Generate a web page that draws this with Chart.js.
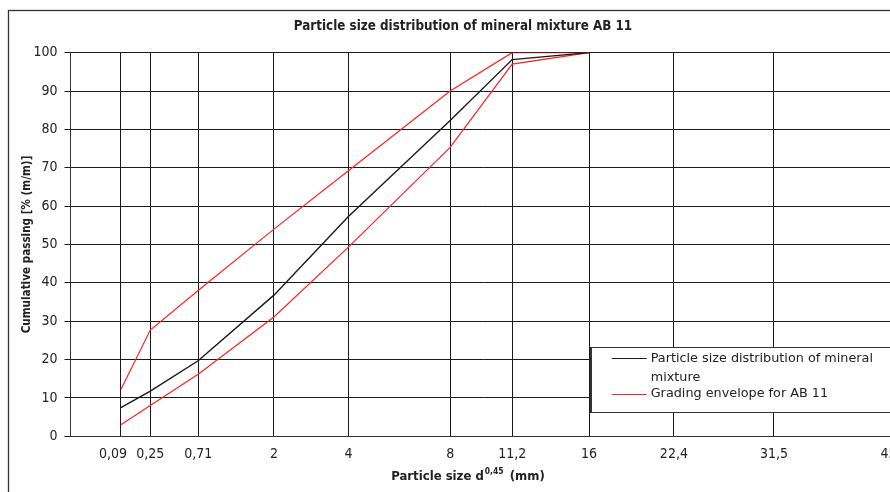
<!DOCTYPE html>
<html>
<head>
<meta charset="utf-8">
<script src="https://cdn.jsdelivr.net/npm/chart.js@4.4.1/dist/chart.umd.min.js"></script>
<style>
  html, body { margin: 0; padding: 0; background: #fff; overflow: hidden; }
  #wrap { position: relative; width: 910px; height: 492px; }
</style>
</head>
<body>
<div id="wrap"><canvas id="c"></canvas></div>
<script>
// ---- data ----
const sieveSizes = [0.09, 0.25, 0.71, 2, 4, 8, 11.2, 16];
const mixturePassing = [7.5, 11.8, 19.7, 36.8, 57.3, 82.3, 98.2, 100];
const envelopeLower = [3, 8, 16.2, 31.1, 49.3, 75.3, 97, 100];
const envelopeUpper = [12.2, 27.7, 38, 54, 69.2, 90, 100, 100];
const xTickValues = [0, 0.09, 0.25, 0.71, 2, 4, 8, 11.2, 16, 22.4, 31.5, 45];
const xTickLabels = ['', '0,09', '0,25', '0,71', '2', '4', '8', '11,2', '16', '22,4', '31,5', '45'];
const yTickStep = 10;

const chartTitle = 'Particle size distribution of mineral mixture AB 11';
const yTitle = 'Cumulative passing [% (m/m)]';
const xTitleMain = 'Particle size d';
const xTitleSup = '0,45';
const xTitleUnit = ' (mm)';
const seriesMixture = 'Particle size distribution of mineral mixture';
const seriesEnvelope = 'Grading envelope for AB 11';

const EXP = 0.45;
const FONT = '"DejaVu Sans Condensed", "DejaVu Sans", sans-serif';
const LEGEND_FONT = '"DejaVu Sans", sans-serif';

// ---- power (d^0.45) scale ----
class PowerScale extends Chart.LinearScale {
  getPixelForValue(value) {
    if (value === null || value === undefined || isNaN(value)) return NaN;
    const a = Math.pow(this.min, EXP), b = Math.pow(this.max, EXP);
    return this.getPixelForDecimal((Math.pow(value, EXP) - a) / (b - a));
  }
  getValueForPixel(pixel) {
    const a = Math.pow(this.min, EXP), b = Math.pow(this.max, EXP);
    const t = a + this.getDecimalForPixel(pixel) * (b - a);
    return Math.pow(Math.max(t, 0), 1 / EXP);
  }
}
PowerScale.id = 'power';
PowerScale.defaults = {};
Chart.register(PowerScale);

const pts = (arr) => sieveSizes.map((d, i) => ({ x: d, y: arr[i] }));

const framePlugin = {
  id: 'frame',
  beforeDraw(chart) {
    const ctx = chart.ctx;
    ctx.save();
    ctx.fillStyle = '#fff';
    ctx.fillRect(0, 0, chart.width, chart.height);
    ctx.strokeStyle = '#333';
    ctx.lineWidth = 1.3;
    ctx.strokeRect(8.5, 10.5, chart.width + 50, chart.height + 50);
    ctx.restore();
  },
  afterDraw(chart) {
    const ctx = chart.ctx;
    ctx.save();
    // x-axis title with superscript
    const mainFont = 'bold 13px ' + FONT;
    const supFont = 'bold 8.5px ' + FONT;
    ctx.font = mainFont;
    const w1 = ctx.measureText(xTitleMain).width;
    const w3 = ctx.measureText(xTitleUnit).width;
    ctx.font = supFont;
    const w2 = ctx.measureText(xTitleSup).width;
    const total = w1 + w2 + 3 + w3;
    let x = 468 - total / 2;
    const y = 477;
    ctx.fillStyle = '#222';
    ctx.textBaseline = 'middle';
    ctx.textAlign = 'left';
    ctx.font = mainFont;
    ctx.fillText(xTitleMain, x, y);
    x += w1 + 1;
    ctx.font = supFont;
    ctx.fillText(xTitleSup, x, y - 5);
    x += w2 + 2;
    ctx.font = mainFont;
    ctx.fillText(xTitleUnit, x, y);

    // legend box
    const bx = 590.5, by = 347.5, bw = 400, bh = 65;
    ctx.fillStyle = '#fff';
    ctx.fillRect(bx, by, bw, bh);
    ctx.strokeStyle = '#333';
    ctx.lineWidth = 1;
    ctx.strokeRect(bx, by, bw, bh);
    ctx.lineWidth = 2;
    ctx.beginPath(); ctx.moveTo(bx + 0.5, by); ctx.lineTo(bx + 0.5, by + bh); ctx.stroke();

    ctx.font = '12.8px ' + LEGEND_FONT;
    ctx.textBaseline = 'middle';
    let ly = 358.3;
    chart.data.datasets.forEach(ds => {
      if (ds.legendEntry === false) return;
      const words = ds.label.split(' ');
      const lines = [];
      let cur = '';
      words.forEach(wd => {
        const t = cur ? cur + ' ' + wd : wd;
        if (ctx.measureText(t).width > 232 && cur) { lines.push(cur); cur = wd; } else cur = t;
      });
      if (cur) lines.push(cur);
      ctx.strokeStyle = ds.borderColor;
      ctx.lineWidth = 1;
      ctx.beginPath(); ctx.moveTo(611.7, Math.round(ly) + 0.5); ctx.lineTo(646.7, Math.round(ly) + 0.5); ctx.stroke();
      ctx.fillStyle = '#222';
      lines.forEach((ln, k) => ctx.fillText(ln, 650.7, ly + k * 19.5));
      ly += (lines.length - 1) * 19.5 + 16;
    });
    ctx.restore();
  }
};

new Chart(document.getElementById('c'), {
  type: 'line',
  data: {
    datasets: [
      { label: seriesMixture, data: pts(mixturePassing), borderColor: '#1a1a1a', borderWidth: 1.4 },
      { label: seriesEnvelope, data: pts(envelopeLower), borderColor: '#ff2020', borderWidth: 1.2 },
      { label: seriesEnvelope, data: pts(envelopeUpper), borderColor: '#ff2020', borderWidth: 1.2, legendEntry: false }
    ]
  },
  options: {
    responsive: true,
    maintainAspectRatio: false,
    animation: false,
    devicePixelRatio: 1,
    elements: { point: { radius: 0 }, line: { tension: 0 } },
    layout: { padding: { left: 29.6, right: 13.6, top: 0, bottom: 0 } },
    plugins: {
      legend: { display: false },
      tooltip: { enabled: false },
      title: {
        display: true,
        text: chartTitle,
        color: '#222',
        font: { family: FONT, size: 13.3, weight: 'bold', lineHeight: 1.2 },
        padding: { top: 19, bottom: 17.7 }
      }
    },
    scales: {
      x: {
        type: 'power',
        min: 0,
        max: 45,
        afterBuildTicks(scale) { scale.ticks = xTickValues.map(v => ({ value: v })); },
        afterFit(scale) { scale.height = 55.7; },
        border: { color: '#333', width: 1 },
        grid: { color: '#1a1a1a', lineWidth: 1, drawTicks: false },
        ticks: {
          autoSkip: false, maxRotation: 0, minRotation: 0, align: 'inner',
          padding: 10, color: '#222',
          font: { family: FONT, size: 14 },
          callback: (v, i) => (i === 1 ? xTickLabels[i] + '    ' : xTickLabels[i])
        }
      },
      y: {
        min: 0,
        max: 100,
        afterFit(scale) { scale.width = 70.5 - 29.6; },
        border: { color: '#333', width: 1 },
        grid: { color: '#1a1a1a', lineWidth: 1, drawTicks: true, tickLength: 6 },
        ticks: { stepSize: yTickStep, padding: 7, color: '#222', font: { family: FONT, size: 14 } },
        title: {
          display: true, text: yTitle, color: '#222',
          font: { family: FONT, size: 11.6, weight: 'bold', lineHeight: 1.2 },
          padding: { top: -9.6, bottom: 0 }
        }
      }
    }
  },
  plugins: [framePlugin]
});
</script>
</body>
</html>
